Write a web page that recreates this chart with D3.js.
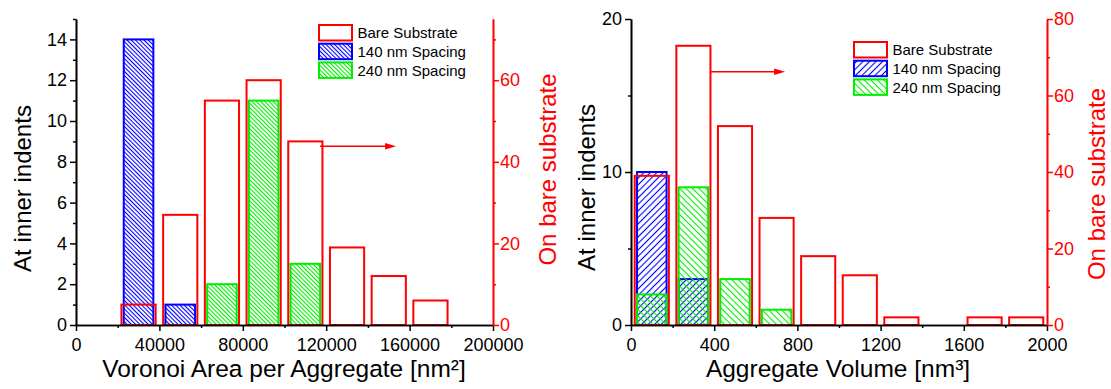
<!DOCTYPE html>
<html>
<head>
<meta charset="utf-8">
<script src="https://cdn.jsdelivr.net/npm/d3@7"></script>
<style>
  body { margin: 0; background: #fff; }
  svg { display: block; }
  text { font-family: Arial, "Liberation Sans", sans-serif; }
</style>
</head>
<body>
<svg id="chart" width="1111" height="389"></svg>
<script>
// ---- Voronoi area per aggregate (bin centres, nm²) ----
const areaBareCenters = [30000, 50000, 70000, 90000, 110000, 130000, 150000, 170000];
const areaBare        = [5, 27, 55, 60, 45, 19, 12, 6];
const area140Centers  = [30000, 50000];
const area140         = [14, 1];
const area240Centers  = [70000, 90000, 110000];
const area240         = [2, 11, 3];

// ---- Aggregate volume (bin centres, nm³) ----
const volBareCenters = [100, 300, 500, 700, 900, 1100, 1300, 1500, 1700, 1900];
const volBare        = [39, 73, 52, 28, 18, 13, 2, 0, 2, 2];
const vol140Centers  = [100, 300];
const vol140         = [10, 3];
const vol240Centers  = [100, 300, 500, 700];
const vol240         = [2, 9, 3, 1];

// ---- tick values ----
const areaXTicks      = [0, 40000, 80000, 120000, 160000, 200000];
const areaXMinor      = [20000, 60000, 100000, 140000, 180000];
const areaLeftTicks   = [0, 2, 4, 6, 8, 10, 12, 14];
const areaLeftMinor   = [1, 3, 5, 7, 9, 11, 13, 15];
const areaRightTicks  = [0, 20, 40, 60];
const areaRightMinor  = [10, 30, 50, 70];
const volXTicks       = [0, 400, 800, 1200, 1600, 2000];
const volXMinor       = [200, 600, 1000, 1400, 1800];
const volLeftTicks    = [0, 10, 20];
const volLeftMinor    = [5, 15];
const volRightTicks   = [0, 20, 40, 60, 80];
const volRightMinor   = [10, 30, 50, 70];

const legendLabels = ["Bare Substrate", "140 nm Spacing", "240 nm Spacing"];

const RED = "#ff0000", BLUE = "#0000ff", GREEN = "#00ee00";

const svg = d3.select("#chart");
const defs = svg.append("defs");

// diagonal hatch: angle -45 gives "\\", +45 gives "/"
function hatch(id, color, angle, gap) {
  const p = defs.append("pattern")
    .attr("id", id)
    .attr("patternUnits", "userSpaceOnUse")
    .attr("width", gap).attr("height", gap)
    .attr("patternTransform", `rotate(${angle})`);
  p.append("line")
    .attr("x1", gap / 2).attr("y1", -1)
    .attr("x2", gap / 2).attr("y2", gap + 1)
    .attr("stroke", color).attr("stroke-width", 1.1);
}
hatch("hA140", BLUE, -45, 3);
hatch("hA240", GREEN, -45, 3);
hatch("hV140", BLUE, 45, 4.6);
hatch("hV240", GREEN, -45, 4.6);

function panel(cfg) {
  const g = svg.append("g");
  const x  = d3.scaleLinear().domain(cfg.xDomain).range([cfg.x0, cfg.x1]);
  const yL = d3.scaleLinear().domain(cfg.yLDomain).range([325, 19]);
  const yR = d3.scaleLinear().domain(cfg.yRDomain).range([325, 19]);

  const series = [
    { c: cfg.s140.c, v: cfg.s140.v, y: yL, w: cfg.binW * 0.71, stroke: BLUE,  fill: `url(#${cfg.s140.pat})` },
    { c: cfg.s240.c, v: cfg.s240.v, y: yL, w: cfg.binW * 0.71, stroke: GREEN, fill: `url(#${cfg.s240.pat})` },
    { c: cfg.bare.c, v: cfg.bare.v, y: yR, w: cfg.binW * 0.82, stroke: RED,   fill: "none" }
  ];
  series.forEach(s => {
    const d = s.c.map((c, i) => ({ c, v: s.v[i] })).filter(d => d.v > 0);
    g.append("g").selectAll("rect").data(d).join("rect")
      .attr("x", d => x(d.c - s.w / 2))
      .attr("width", d => x(d.c + s.w / 2) - x(d.c - s.w / 2))
      .attr("y", d => s.y(d.v))
      .attr("height", d => s.y(0) - s.y(d.v))
      .attr("fill", s.fill)
      .attr("stroke", s.stroke)
      .attr("stroke-width", 2);
  });

  // arrow pointing to the right-hand axis
  const ay = yR(cfg.arrow.y);
  const ax0 = x(cfg.arrow.x0), ax1 = x(cfg.arrow.x1);
  g.append("line").attr("x1", ax0).attr("x2", ax1 - 8).attr("y1", ay).attr("y2", ay)
    .attr("stroke", RED).attr("stroke-width", 1.5);
  g.append("path")
    .attr("d", `M${ax1},${ay} L${ax1 - 11},${ay - 3.2} L${ax1 - 11},${ay + 3.2} Z`)
    .attr("fill", RED);

  // axes
  function styleAxis(sel, color) {
    sel.selectAll("path.domain").attr("stroke", color).attr("stroke-width", 1.6);
    sel.selectAll(".tick line").attr("stroke", color).attr("stroke-width", 1.5);
    sel.selectAll(".tick text").attr("fill", color).style("font-size", "18px")
      .style("font-family", "Arial, 'Liberation Sans', sans-serif");
  }
  const bx = g.append("g").attr("transform", "translate(0,325)");
  bx.append("g").call(d3.axisBottom(x).tickValues(cfg.xMinor).tickSize(3).tickSizeOuter(0).tickFormat(""))
    .call(s => styleAxis(s, "#000"));
  bx.append("g").call(d3.axisBottom(x).tickValues(cfg.xTicks).tickSize(6).tickSizeOuter(0).tickPadding(7).tickFormat(d3.format("d")))
    .call(s => styleAxis(s, "#000"));

  const ly = g.append("g").attr("transform", `translate(${cfg.x0},0)`);
  ly.append("g").call(d3.axisLeft(yL).tickValues(cfg.yLMinor).tickSize(3).tickSizeOuter(0).tickFormat(""))
    .call(s => styleAxis(s, "#000"));
  ly.append("g").call(d3.axisLeft(yL).tickValues(cfg.yLTicks).tickSize(6).tickSizeOuter(0).tickPadding(3))
    .call(s => styleAxis(s, "#000"));

  const ry = g.append("g").attr("transform", `translate(${cfg.x1},0)`);
  ry.append("g").call(d3.axisRight(yR).tickValues(cfg.yRMinor).tickSize(3).tickSizeOuter(0).tickFormat(""))
    .call(s => styleAxis(s, RED));
  ry.append("g").call(d3.axisRight(yR).tickValues(cfg.yRTicks).tickSize(6).tickSizeOuter(0).tickPadding(1))
    .call(s => styleAxis(s, RED));

  // titles
  g.append("text").attr("x", cfg.xTitle.x).attr("y", 377).attr("text-anchor", "middle")
    .style("font-size", "24.5px").text(cfg.xTitle.text);
  g.append("text").attr("transform", `translate(${cfg.yLTitle.x},${cfg.yLTitle.y}) rotate(-90)`)
    .attr("text-anchor", "middle").style("font-size", "24px").text("At inner indents");
  g.append("text").attr("transform", `translate(${cfg.yRTitle.x},${cfg.yRTitle.y}) rotate(-90)`)
    .attr("text-anchor", "middle").attr("fill", RED).style("font-size", "24px").text("On bare substrate");

  // legend
  const lg = g.append("g").attr("transform", `translate(${cfg.legend.x},${cfg.legend.y})`);
  const fills = ["none", `url(#${cfg.s140.pat})`, `url(#${cfg.s240.pat})`];
  const strokes = [RED, BLUE, GREEN];
  legendLabels.forEach((lab, i) => {
    const row = lg.append("g").attr("transform", `translate(0,${i * 18.7})`);
    row.append("rect").attr("x", 0).attr("y", 0).attr("width", 33).attr("height", 15.5)
      .attr("fill", fills[i] === "none" ? "#fff" : fills[i]).attr("stroke", strokes[i]).attr("stroke-width", 2);
    row.append("text").attr("x", 38.5).attr("y", 13.2).style("font-size", "15px").text(lab);
  });
}

panel({
  xDomain: [0, 200000], x0: 76, x1: 493, binW: 20000,
  yLDomain: [0, 15], yRDomain: [0, 75],
  bare: { c: areaBareCenters, v: areaBare },
  s140: { c: area140Centers, v: area140, pat: "hA140" },
  s240: { c: area240Centers, v: area240, pat: "hA240" },
  xTicks: areaXTicks, xMinor: areaXMinor,
  yLTicks: areaLeftTicks, yLMinor: areaLeftMinor,
  yRTicks: areaRightTicks, yRMinor: areaRightMinor,
  arrow: { x0: 117000, x1: 153500, y: 43.8 },
  xTitle: { x: 284, text: "Voronoi Area per Aggregate [nm²]" },
  yLTitle: { x: 30.5, y: 188.5 },
  yRTitle: { x: 555.5, y: 169.5 },
  legend: { x: 319, y: 25 }
});

panel({
  xDomain: [0, 2000], x0: 631, x1: 1047, binW: 200,
  yLDomain: [0, 20], yRDomain: [0, 80],
  bare: { c: volBareCenters, v: volBare },
  s140: { c: vol140Centers, v: vol140, pat: "hV140" },
  s240: { c: vol240Centers, v: vol240, pat: "hV240" },
  xTicks: volXTicks, xMinor: volXMinor,
  yLTicks: volLeftTicks, yLMinor: volLeftMinor,
  yRTicks: volRightTicks, yRMinor: volRightMinor,
  arrow: { x0: 385, x1: 741, y: 66.2 },
  xTitle: { x: 838, text: "Aggregate Volume [nm³]" },
  yLTitle: { x: 595, y: 187.5 },
  yRTitle: { x: 1105, y: 184 },
  legend: { x: 854, y: 42 }
});
</script>
</body>
</html>
